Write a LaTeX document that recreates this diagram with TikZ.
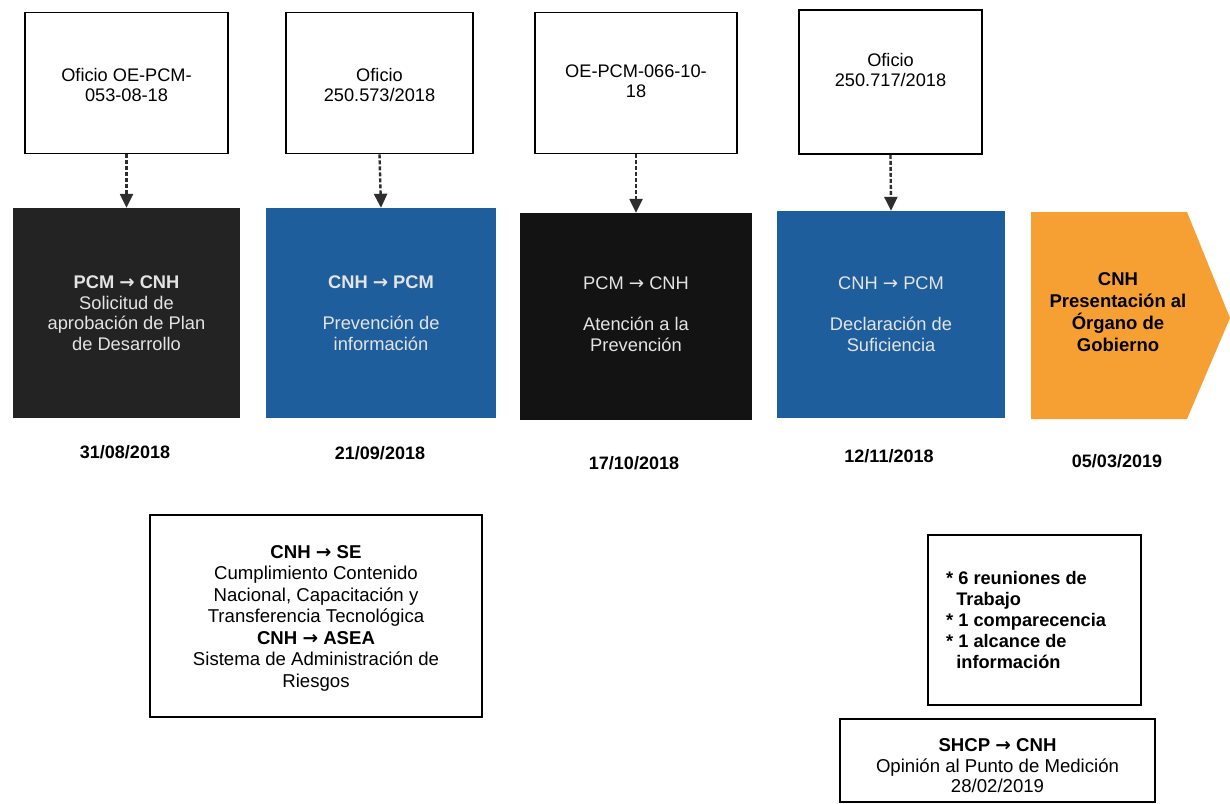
\documentclass[tikz,border=0pt]{standalone}
\usepackage{fontspec}
\setmainfont{Liberation Sans}
\newfontfamily\arrfont{DejaVu Sans}
\usetikzlibrary{arrows.meta}
\newcommand{\rarr}{{\arrfont\char"2192}}
\definecolor{darkbox}{HTML}{232323}
\definecolor{blackbox}{HTML}{131313}
\definecolor{bluebox}{HTML}{1E5E9C}
\definecolor{orangebox}{HTML}{F6A034}
\definecolor{arrowcol}{HTML}{2E2E2E}
\definecolor{lighttext}{HTML}{E4E4E4}
\tikzset{
  docbox/.style={draw=black, line width=1.6pt, fill=white, inner sep=0pt},
  stagebox/.style={inner sep=0pt},
  doctext/.style={align=center, font=\fontsize{18.2}{20.5}\selectfont, inner sep=0pt},
  stagetext/.style={align=center, text=lighttext, font=\fontsize{18.3}{20.5}\selectfont, inner sep=0pt},
  datetext/.style={font=\bfseries\fontsize{18}{20}\selectfont, inner sep=0pt},
  notebox/.style={draw=black, line width=1.6pt, fill=white, inner sep=0pt},
  notetext/.style={align=center, font=\fontsize{18.6}{21.5}\selectfont, inner sep=0pt},
  linkarrow/.style={draw=arrowcol, line width=2.4pt, dash pattern=on 4pt off 2pt, -{Triangle[width=13pt,length=14pt]}}
}
\begin{document}
\begin{tikzpicture}[x=1pt,y=-1pt]
\useasboundingbox (0,0) rectangle (1230,803);
\fill[white] (0,0) rectangle (1230,803);

% top document boxes
\node[docbox, minimum width=203pt, minimum height=141pt] (t1) at (126.5,83) {};
\node[docbox, minimum width=187pt, minimum height=141pt] (t2) at (379.5,83) {};
\node[docbox, minimum width=202pt, minimum height=141pt] (t3) at (636,83) {};
\node[docbox, minimum width=183pt, minimum height=144pt] (t4) at (890.5,82) {};
\node[doctext] (t1x) at (126.5,85) {Oficio OE-PCM-\\053-08-18};
\node[doctext] (t2x) at (379.5,85) {Oficio\\250.573/2018};
\node[doctext] (t3x) at (636,81) {OE-PCM-066-10-\\18};
\node[doctext] (t4x) at (890.5,70) {Oficio\\250.717/2018};

% stage boxes
\node[stagebox, fill=darkbox, minimum width=227pt, minimum height=210pt] (m1) at (126.5,313) {};
\node[stagebox, fill=bluebox, minimum width=230pt, minimum height=210pt] (m2) at (381,313) {};
\node[stagebox, fill=blackbox, minimum width=232pt, minimum height=207pt] (m3) at (636,316.5) {};
\node[stagebox, fill=bluebox, minimum width=228pt, minimum height=207pt] (m4) at (891,314.5) {};
\fill[orangebox] (1031,212) -- (1187,212) -- (1230,318) -- (1187,419) -- (1031,419) -- cycle;
\coordinate (m5) at (1118,312);

\node[stagetext] (m1x) at (126.5,313) {\textbf{PCM \rarr{} CNH}\\Solicitud de\\aprobación de Plan\\de Desarrollo};
\node[stagetext] (m2x) at (381,313) {\textbf{CNH \rarr{} PCM}\\[21pt]Prevención de\\información};
\node[stagetext] (m3x) at (636,314) {PCM \rarr{} CNH\\[21pt]Atención a la\\Prevención};
\node[stagetext] (m4x) at (891,314) {CNH \rarr{} PCM\\[21pt]Declaración de\\Suficiencia};
\node[align=center, inner sep=0pt, font=\bfseries\fontsize{18.5}{22}\selectfont] (m5x) at (m5) {CNH\\Presentación al\\Órgano de\\Gobierno};

% connectors
\draw[linkarrow] (t1.south) -- (m1.north);
\draw[linkarrow] (t2.south) -- (m2.north);
\draw[linkarrow] (t3.south) -- (m3.north);
\draw[linkarrow] (t4.south) -- (m4.north);

% dates
\node[datetext] (d1) at (125,452) {31/08/2018};
\node[datetext] (d2) at (380,453) {21/09/2018};
\node[datetext] (d3) at (634,463) {17/10/2018};
\node[datetext] (d4) at (889,456) {12/11/2018};
\node[datetext] (d5) at (1117,461) {05/03/2019};

% bottom-left note
\node[notebox, minimum width=332pt, minimum height=202pt] (n1) at (316,616) {};
\node[notetext] (n1x) at (316,618) {\textbf{CNH \rarr{} SE}\\Cumplimiento Contenido\\Nacional, Capacitación y\\Transferencia Tecnológica\\\textbf{CNH \rarr{} ASEA}\\Sistema de Administración de\\Riesgos};

% right notes
\node[notebox, minimum width=213pt, minimum height=170pt] (n2) at (1034.5,620) {};
\node[align=left, anchor=west, inner sep=0pt, font=\bfseries\fontsize{18.2}{21.2}\selectfont] (n2x) at (946,620) {* 6 reuniones de\\\phantom{*}\,Trabajo\\* 1 comparecencia\\* 1 alcance de\\\phantom{*}\,información};

\node[notebox, minimum width=315pt, minimum height=83pt] (n3) at (997.5,760.5) {};
\node[notetext, font=\fontsize{18.6}{20.5}\selectfont] (n3x) at (997.5,766) {\textbf{SHCP \rarr{} CNH}\\Opinión al Punto de Medición\\28/02/2019};
\end{tikzpicture}
\end{document}
